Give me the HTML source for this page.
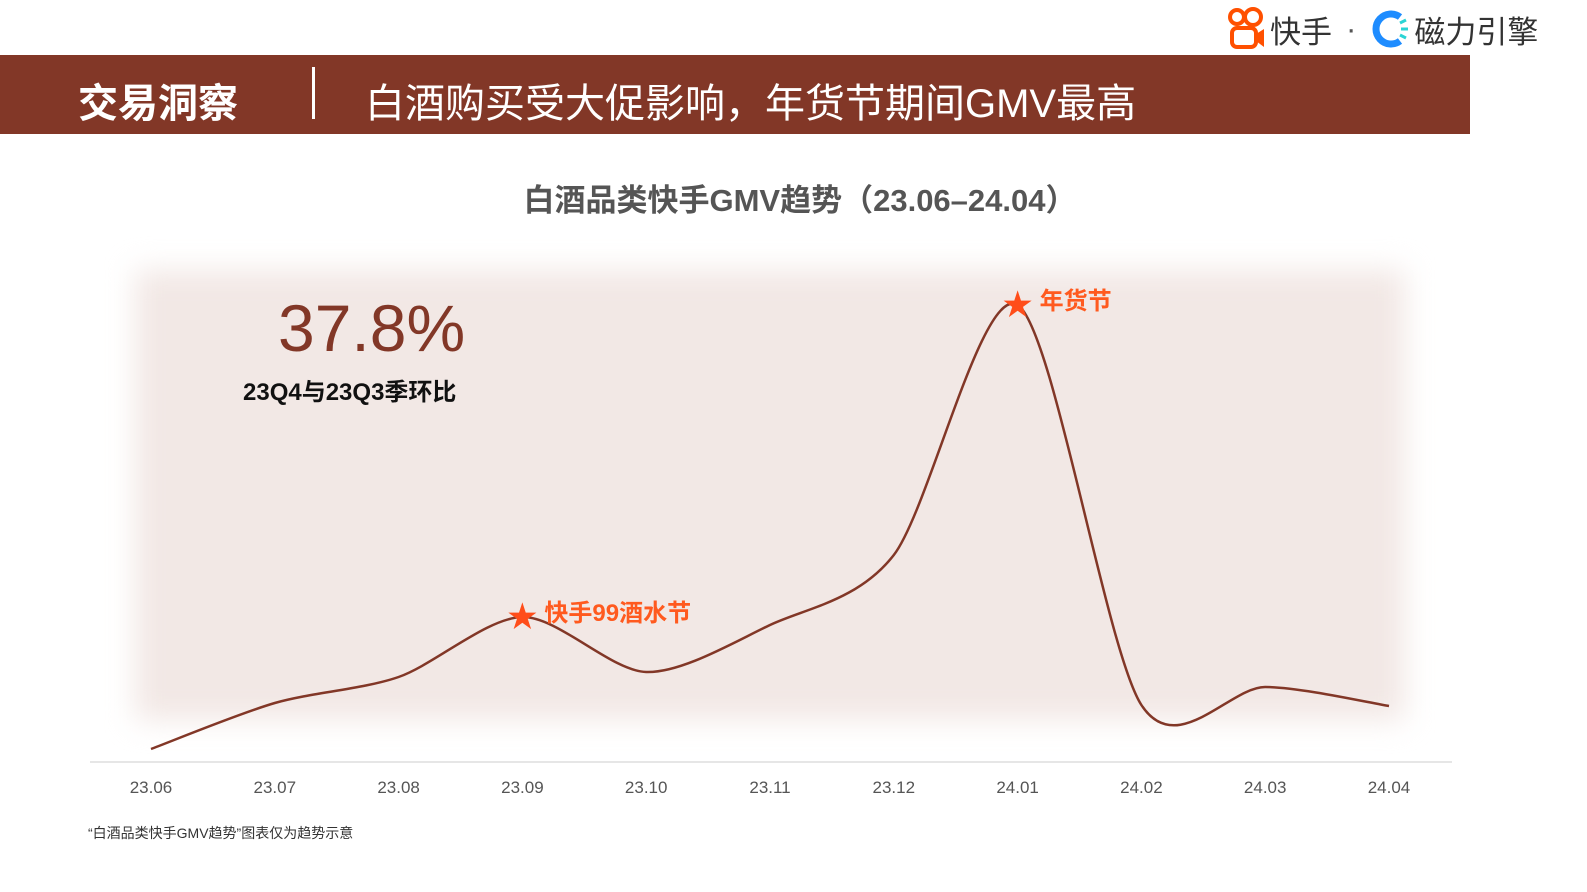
<!DOCTYPE html>
<html><head><meta charset="utf-8"><style>
body{margin:0;width:1587px;height:892px;background:#fff;position:relative;overflow:hidden;font-family:"Liberation Sans","Noto Sans CJK SC",sans-serif}
.abs{position:absolute}
</style></head><body>
<div class="abs" style="left:1228px;top:6px;height:46px;display:flex;align-items:center;font-size:31px;color:#333;">
<svg width="38" height="44" viewBox="0 0 38 44"><circle cx="9" cy="10" r="7" fill="none" stroke="#ff5000" stroke-width="4"/><circle cx="25" cy="10" r="8" fill="none" stroke="#ff5000" stroke-width="4"/><rect x="4" y="21" width="24" height="19" rx="5" fill="none" stroke="#ff5000" stroke-width="4"/><path d="M28 27 L36 22 L36 40 L28 34Z" fill="#ff5000"/></svg>
<span style="margin-left:4px">快手</span><span style="margin:0 14px;color:#555">·</span>
<svg width="40" height="40" viewBox="0 0 40 40"><path d="M30 8 A15 15 0 1 0 30 32" fill="none" stroke="#1e8cff" stroke-width="7"/><g stroke="#2ad4d4" stroke-width="3"><line x1="30" y1="14" x2="36" y2="11"/><line x1="31" y1="20" x2="38" y2="20"/><line x1="30" y1="26" x2="36" y2="29"/></g></svg>
<span style="margin-left:4px">磁力引擎</span></div>
<div class="abs" style="left:0;top:55px;width:1470px;height:79px;background:#823727;color:#fff;">
<span class="abs" style="left:78px;top:16px;font-size:40px;font-weight:bold;">交易洞察</span>
<div class="abs" style="left:312px;top:12px;width:3px;height:52px;background:#fff"></div>
<span class="abs" style="left:365px;top:16px;font-size:40px;">白酒购买受大促影响，年货节期间GMV最高</span></div>
<div class="abs" style="left:0;width:1600px;top:175px;text-align:center;font-size:31px;font-weight:bold;color:#555">白酒品类快手GMV趋势（23.06–24.04）</div>
<div class="abs" style="left:135px;top:270px;width:1270px;height:450px;background:#f2e8e5;filter:blur(14px)"></div>
<div class="abs" style="left:278px;top:290px;font-size:66px;color:#823727">37.8%</div>
<div class="abs" style="left:243px;top:372px;font-size:24px;font-weight:bold;color:#111">23Q4与23Q3季环比</div>
<div class="abs" style="left:88px;top:823px;font-size:14px;color:#333">“白酒品类快手GMV趋势”图表仅为趋势示意</div>
<svg class="abs" style="left:0;top:0" width="1587" height="892" id="chart"></svg>
<script>
const categories=["23.06","23.07","23.08","23.09","23.10","23.11","23.12","24.01","24.02","24.03","24.04"];
const gmvValues=[11,57,83,143,88,135,205,455,55,73,54];
const markers=[{i:3,label:"快手99酒水节"},{i:7,label:"年货节"}];
const svg=document.getElementById('chart');
const NS='http://www.w3.org/2000/svg';
const x=i=>151+i*123.8;
const y=v=>760-v;
function mk(t,a){const e=document.createElementNS(NS,t);for(const k in a)e.setAttribute(k,a[k]);svg.appendChild(e);return e;}
const ax=mk('line',{x1:90,x2:1452,y1:762,y2:762,stroke:'#ddd','stroke-width':1.5});


categories.forEach((c,i)=>{const t=mk('text',{x:x(i),y:793,'text-anchor':'middle','font-size':17,fill:'#555','font-family':'Liberation Sans, sans-serif'});t.textContent=c;

});
const P=gmvValues.map((v,i)=>[x(i),y(v)]);
const k=1/7;
let d=`M${P[0][0]},${P[0][1]}`;
for(let i=0;i<P.length-1;i++){const p0=P[Math.max(0,i-1)],p1=P[i],p2=P[i+1],p3=P[Math.min(P.length-1,i+2)];
d+=` C${p1[0]+(p2[0]-p0[0])*k},${p1[1]+(p2[1]-p0[1])*k} ${p2[0]-(p3[0]-p1[0])*k},${p2[1]-(p3[1]-p1[1])*k} ${p2[0]},${p2[1]}`;}
const line=mk('path',{d,fill:'none',stroke:'#823727','stroke-width':2.5});


markers.forEach(m=>{const cx=x(m.i),cy=y(gmvValues[m.i]);
const s=mk('text',{x:cx,y:cy+10,'text-anchor':'middle','font-size':30,fill:'#ff4d1a'});s.textContent='★';


const t=mk('text',{x:cx+22,y:cy+4,'font-size':24,'font-weight':'bold',fill:'#ff5a1f','font-family':'Liberation Sans, Noto Sans CJK SC, sans-serif'});t.textContent=m.label;

});
</script>
</body></html>
